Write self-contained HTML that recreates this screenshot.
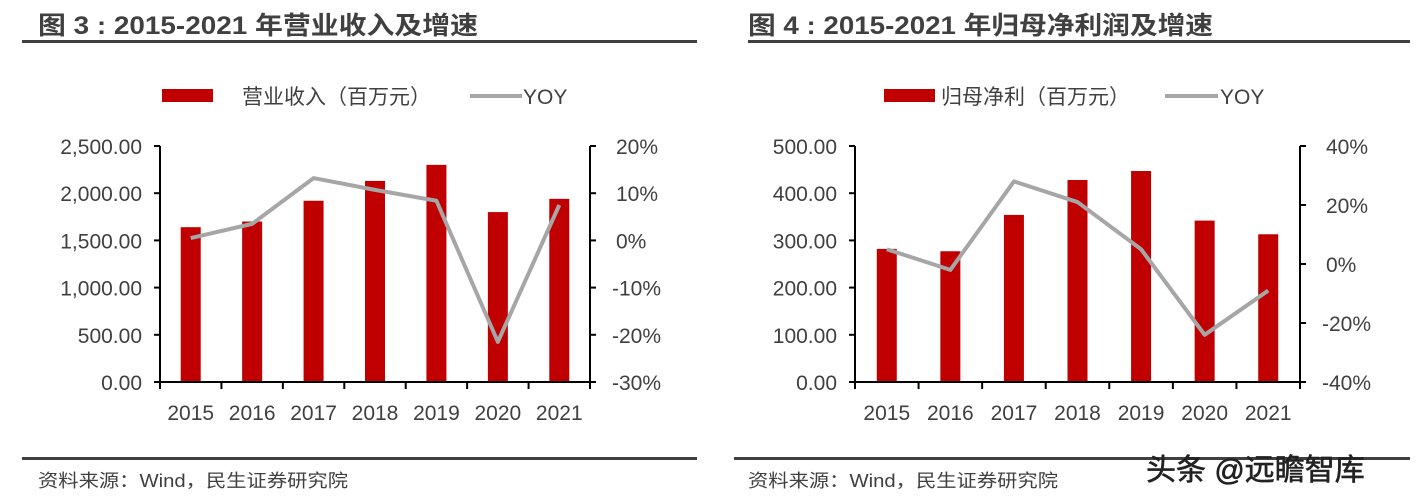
<!DOCTYPE html>
<html><head><meta charset="utf-8"><style>
body{margin:0;background:#fff;width:1418px;height:504px;overflow:hidden;font-family:"Liberation Sans","Noto Sans CJK SC",sans-serif}
svg{display:block}
</style></head><body>
<svg id="s" width="1418" height="504" font-family="'Liberation Sans','Noto Sans CJK SC',sans-serif">
<text x="38" y="34" font-size="25" font-weight="bold" fill="#404040" textLength="440" lengthAdjust="spacingAndGlyphs">图 3 : 2015-2021 年营业收入及增速</text>
<rect x="22" y="40" width="675" height="3" fill="#404040"/>
<text x="748" y="34" font-size="25" font-weight="bold" fill="#404040" textLength="465" lengthAdjust="spacingAndGlyphs">图 4 : 2015-2021 年归母净利润及增速</text>
<rect x="748" y="40" width="662" height="3" fill="#404040"/>
<g>
<rect x="162" y="89" width="51" height="13" fill="#c00000"/>
<text x="242" y="104" font-size="21" fill="#404040">营业收入（百万元）</text>
<line x1="470" y1="96" x2="522" y2="96" stroke="#a6a6a6" stroke-width="4"/>
<text x="523" y="104" font-size="21" fill="#404040">YOY</text>
</g>
<g>
<rect x="884" y="89" width="51" height="13" fill="#c00000"/>
<text x="941" y="104" font-size="21" fill="#404040">归母净利（百万元）</text>
<line x1="1165" y1="96" x2="1218" y2="96" stroke="#a6a6a6" stroke-width="4"/>
<text x="1220" y="104" font-size="21" fill="#404040">YOY</text>
</g>
<rect x="22" y="457" width="675" height="3" fill="#404040"/>
<text x="38" y="487" font-size="18" fill="#404040" textLength="310" lengthAdjust="spacingAndGlyphs">资料来源：Wind，民生证券研究院</text>
<rect x="734" y="457" width="676" height="3" fill="#404040"/>
<text x="748" y="487" font-size="18" fill="#404040" textLength="310" lengthAdjust="spacingAndGlyphs">资料来源：Wind，民生证券研究院</text>
<text x="1146" y="480" font-size="30" fill="#222" stroke="#222" stroke-width="0.6">头条 @远瞻智库</text>
<g id="c3"></g>
<g id="c4"></g>
</svg>
<script>
const years = ["2015","2016","2017","2018","2019","2020","2021"];
const revenue = [1640,1700,1920,2130,2300,1800,1940];
const revenueYoy = [0.5,3.5,13.2,10.7,8.4,-21.5,7.5];
const revenueTicks = ["0.00","500.00","1,000.00","1,500.00","2,000.00","2,500.00"];
const revenueTickVals = [0,500,1000,1500,2000,2500];
const revenueYoyTickVals = [-30,-20,-10,0,10,20];
const profit = [282,277,354,428,447,342,313];
const profitYoy = [5,-2,28,21,5,-24,-9];
const profitTicks = ["0.00","100.00","200.00","300.00","400.00","500.00"];
const profitTickVals = [0,100,200,300,400,500];
const profitYoyTickVals = [-40,-20,0,20,40];
const NS="http://www.w3.org/2000/svg";
function mk(g,tag,attrs){const e=document.createElementNS(NS,tag);for(const k in attrs)e.setAttribute(k,attrs[k]);g.appendChild(e);return e;}
function draw(g,x0,x1,top,bot,vals,yoy,tl,tv,rv,key){
  const vmax=tv[tv.length-1],rmin=rv[0],rmax=rv[rv.length-1];
  const yL=v=>bot-(v/vmax)*(bot-top);
  const yR=v=>bot-(v-rmin)/(rmax-rmin)*(bot-top);
  const cw=(x1-x0)/years.length;const cx=i=>x0+cw*(i+0.5);
  vals.forEach((v,i)=>{const r=mk(g,'rect',{x:cx(i)-10,y:yL(v),width:20,height:bot-yL(v),fill:'#c00000'});
    
    });
  const ax={stroke:'#000','stroke-width':2};
  let a=mk(g,'line',Object.assign({x1:x0,y1:top,x2:x0,y2:bot},ax));
  a=mk(g,'line',Object.assign({x1:x1,y1:top,x2:x1,y2:bot+7},ax));
  a=mk(g,'line',Object.assign({x1:x0-6,y1:bot,x2:x1+6,y2:bot},ax));
  tv.forEach((v,i)=>{mk(g,'line',Object.assign({x1:x0-6,y1:yL(v),x2:x0,y2:yL(v)},ax));
    const t=mk(g,'text',{x:x0-18,y:yL(v)+8,'font-size':21,fill:'#404040','text-anchor':'end'});t.textContent=tl[i];
    
    });
  rv.forEach(v=>{mk(g,'line',Object.assign({x1:x1,y1:yR(v),x2:x1+6,y2:yR(v)},ax));
    const t=mk(g,'text',{x:x1+(v<0?22:26),y:yR(v)+8,'font-size':21,fill:'#404040'});t.textContent=v+'%';
    
    });
  for(let i=0;i<=years.length;i++)mk(g,'line',Object.assign({x1:x0+cw*i,y1:bot,x2:x0+cw*i,y2:bot+7},ax));
  years.forEach((y,i)=>{const t=mk(g,'text',{x:cx(i),y:bot+38,'font-size':21,fill:'#404040','text-anchor':'middle'});t.textContent=y;
    
    });
  const p=mk(g,'polyline',{points:yoy.map((v,i)=>cx(i)+','+yR(v)).join(' '),fill:'none',stroke:'#a6a6a6','stroke-width':4,'stroke-linejoin':'round'});
  
  
}
draw(document.getElementById('c3'),160,590,146,382,revenue,revenueYoy,revenueTicks,revenueTickVals,revenueYoyTickVals,'revenue');
draw(document.getElementById('c4'),855,1300,146,382,profit,profitYoy,profitTicks,profitTickVals,profitYoyTickVals,'profit');
</script>
</body></html>
